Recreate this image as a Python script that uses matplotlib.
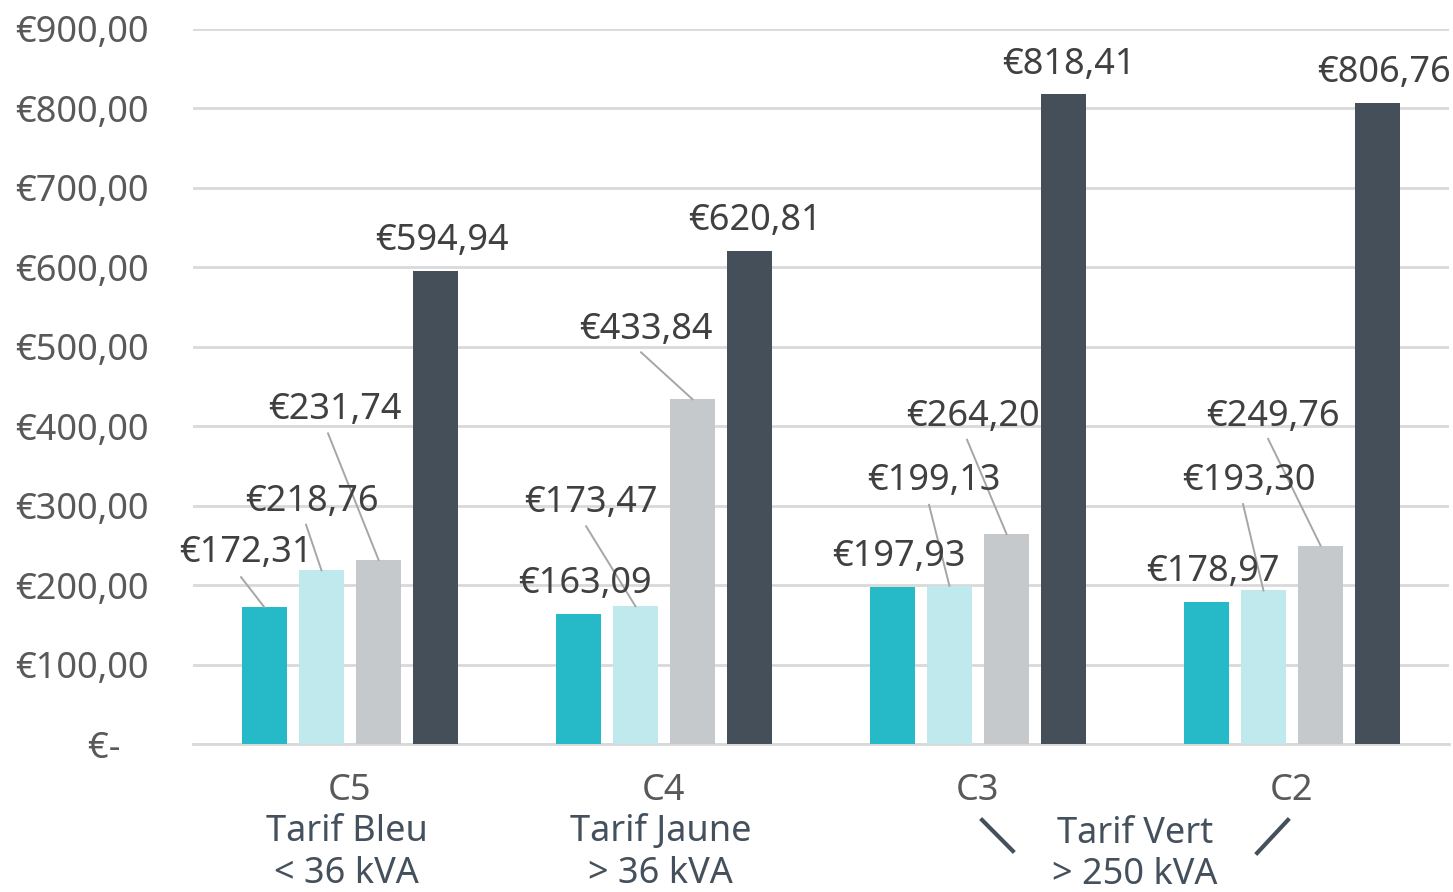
import matplotlib
matplotlib.use("Agg")
import matplotlib.pyplot as plt
import numpy as np

plt.rcParams['font.family'] = ['Noto Sans', 'DejaVu Sans']

categories = ["C5", "C4", "C3", "C2"]
series_a = [172.31, 163.09, 197.93, 178.97]
series_b = [218.76, 173.47, 199.13, 193.30]
series_c = [231.74, 433.84, 264.20, 249.76]
series_d = [594.94, 620.81, 818.41, 806.76]
yticks = [0, 100, 200, 300, 400, 500, 600, 700, 800, 900]

colors = ["#26B9C8", "#BFE9EC", "#C6C9CC", "#444F59"]

def euro(v):
    if v == 0:
        return "€-   "
    return "€" + f"{v:.2f}".replace(".", ",")

# label layout: (text x, text y, leader start x, leader start y or None)
label_layout = {
    (0, 0): (-0.331, 240, -0.347, 210),
    (0, 1): (-0.121, 304, -0.140, 276),
    (0, 2): (-0.048, 420, -0.070, 391),
    (0, 3): (0.293, 633, None, None),
    (1, 0): (0.748, 201, None, None),
    (1, 1): (0.768, 303, 0.752, 274),
    (1, 2): (0.943, 521, 0.927, 493),
    (1, 3): (1.290, 658, None, None),
    (2, 0): (1.748, 235, None, None),
    (2, 1): (1.860, 331, 1.844, 301),
    (2, 2): (1.984, 412, 1.965, 383),
    (2, 3): (2.290, 855, None, None),
    (3, 0): (2.748, 217, None, None),
    (3, 1): (2.862, 331, 2.844, 302),
    (3, 2): (2.939, 412, 2.924, 384),
    (3, 3): (3.293, 844, None, None),
}

W, H = 1453, 892
fig = plt.figure(figsize=(W / 100, H / 100), dpi=100)
ax = fig.add_axes([193 / W, (H - 744) / H, (1449 - 193) / W, (744 - 29) / H])

x = np.arange(len(categories))
width = 0.143
step = 0.182
offsets = [-1.5 * step, -0.5 * step, 0.5 * step, 1.5 * step]
all_series = [series_a, series_b, series_c, series_d]
for s, (vals, col) in enumerate(zip(all_series, colors)):
    ax.bar(x + offsets[s], vals, width=width, color=col, zorder=3)

FS = 26
ax.set_xlim(-0.5, 3.5)
ax.set_ylim(0, 900)
ax.set_yticks(yticks)
ax.set_yticklabels([euro(v) for v in yticks])
ax.tick_params(axis='y', length=0, pad=32, labelsize=FS, labelcolor="#595959")
ax.set_xticks([])
ax.grid(axis='y', color="#D9D9D9", linewidth=2, zorder=0)
ax.set_axisbelow(True)
for sp in ["top", "right", "left"]:
    ax.spines[sp].set_visible(False)
ax.spines["bottom"].set_color("#D9D9D9")
ax.spines["bottom"].set_linewidth(2)

# data labels
for g in range(len(categories)):
    for s in range(4):
        v = all_series[s][g]
        tx, ty, lx, ly = label_layout[(g, s)]
        ax.text(tx, ty, euro(v), ha="center", va="center", fontsize=FS,
                color="#404040", zorder=5)
        if lx is not None:
            ax.plot([lx, x[g] + offsets[s]], [ly, v], color="#A6A6A6",
                    linewidth=1.4, zorder=4)

# category labels
axh = 744 - 29
def yf(py):
    return (744 - py) / axh

trans = ax.get_xaxis_transform()
cat_color = "#595959"
sub_color = "#44505C"
sub_lines = {0: ["Tarif Bleu", "< 36 kVA"], 1: ["Tarif Jaune", "> 36 kVA"]}
for g, c in enumerate(categories):
    ax.text(x[g], yf(791), c, transform=trans, ha="center", va="center",
            fontsize=FS, color=cat_color, clip_on=False)
    if g in sub_lines:
        ax.text(x[g] - 0.01, yf(832), sub_lines[g][0], transform=trans, ha="center",
                va="center", fontsize=FS, color=sub_color, clip_on=False)
        ax.text(x[g] - 0.01, yf(874), sub_lines[g][1], transform=trans, ha="center",
                va="center", fontsize=FS, color=sub_color, clip_on=False)

ax.text(2.5, yf(834), "Tarif Vert", transform=trans, ha="center", va="center",
        fontsize=FS, color=sub_color, clip_on=False)
ax.text(2.5, yf(875), "> 250 kVA", transform=trans, ha="center", va="center",
        fontsize=FS, color=sub_color, clip_on=False)
ax.plot([2.013, 2.111], [yf(820), yf(851)], transform=trans, color=sub_color,
        linewidth=3, clip_on=False)
ax.plot([2.987, 2.889], [yf(820), yf(853)], transform=trans, color=sub_color,
        linewidth=3, clip_on=False)

fig.savefig("out.png", dpi=100)
